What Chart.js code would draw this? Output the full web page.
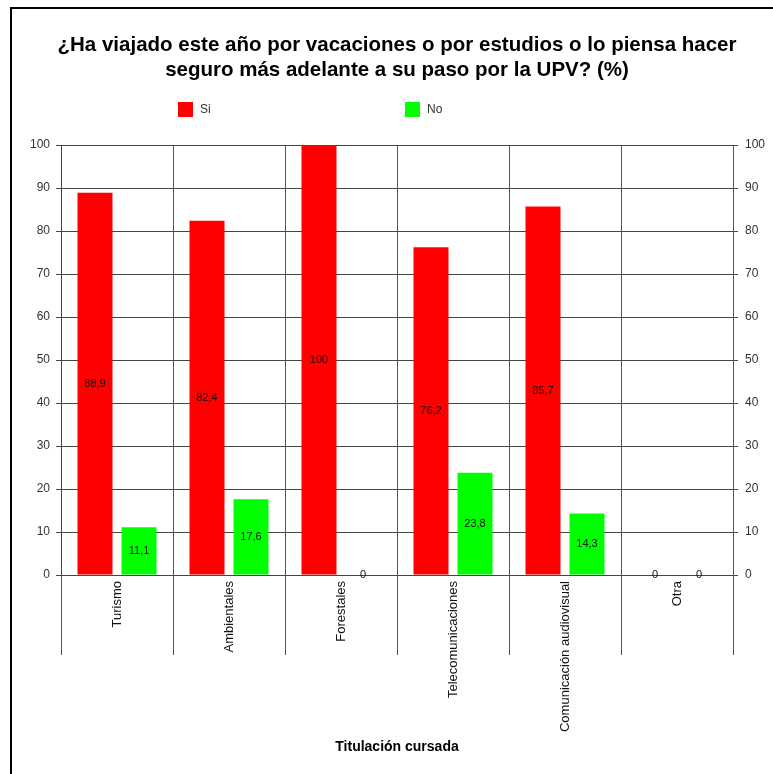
<!DOCTYPE html>
<html>
<head>
<meta charset="utf-8">
<script src="https://cdn.jsdelivr.net/npm/chart.js@4"></script>
<style>
    html, body { margin: 0; padding: 0; overflow: hidden; background: #fff; }
    #frame { position: absolute; left: 10px; top: 7px; width: 763px; height: 767px; border-left: 2px solid #000; border-top: 2px solid #000; box-sizing: border-box; }
    #wrap { position: absolute; left: 0; top: 0; width: 773px; height: 774px; }
</style>
</head>
<body>
<div id="frame"></div>
<div id="wrap"><canvas id="travelChart"></canvas></div>
<script>
const categories = ['Turismo', 'Ambientales', 'Forestales', 'Telecomunicaciones', 'Comunicación audiovisual', 'Otra'];
const siValues = [88.9, 82.4, 100, 76.2, 85.7, 0];
const noValues = [11.1, 17.6, 0, 23.8, 14.3, 0];
const yTicks = [0, 10, 20, 30, 40, 50, 60, 70, 80, 90, 100];

const FONT = "'Liberation Sans', Arial, sans-serif";

// numbers written with comma like the original
function fmt(v) {
    return String(v).replace('.', ',');
}

// value labels in the middle of each bar
const barLabels = {
    id: 'barLabels',
    afterDatasetsDraw(chart) {
        const c = chart.ctx;
        c.save();
        c.font = '11px ' + FONT;
        c.fillStyle = '#111';
        c.textAlign = 'center';
        c.textBaseline = 'middle';
        chart.data.datasets.forEach((ds, i) => {
            chart.getDatasetMeta(i).data.forEach((bar, j) => {
                const y = (bar.y + bar.base) / 2;
                c.fillText(fmt(ds.data[j]), bar.x, y);
            });
        });
        c.restore();
    }
};

// legend laid out like the original (two items spread apart)
const spreadLegend = {
    id: 'spreadLegend',
    afterDraw(chart) {
        const c = chart.ctx;
        const spots = [178, 405];
        c.save();
        c.font = '12px ' + FONT;
        c.textBaseline = 'middle';
        c.textAlign = 'left';
        chart.data.datasets.forEach((ds, i) => {
            const x = spots[i];
            c.fillStyle = ds.backgroundColor;
            c.fillRect(x, 102, 15, 15);
            c.fillStyle = '#333';
            c.fillText(ds.label, x + 22, 110);
        });
        c.restore();
    }
};

const ctx = document.getElementById('travelChart').getContext('2d');
const travelChart = new Chart(ctx, {
    type: 'bar',
    data: {
        labels: categories,
        datasets: [{
            label: 'Si',
            data: siValues,
            backgroundColor: '#ff0000',
            categoryPercentage: 0.786,
            barPercentage: 0.795
        }, {
            label: 'No',
            data: noValues,
            backgroundColor: '#00ff00',
            categoryPercentage: 0.786,
            barPercentage: 0.795
        }]
    },
    options: {
        responsive: true,
        maintainAspectRatio: false,
        animation: false,
        layout: { padding: { left: 21, right: 0, top: 0, bottom: 0 } },
        plugins: {
            legend: { display: false },
            tooltip: { enabled: false },
            title: {
                display: true,
                text: ['¿Ha viajado este año por vacaciones o por estudios o lo piensa hacer', 'seguro más adelante a su paso por la UPV? (%)'],
                color: '#000',
                font: { family: FONT, size: 20.5, weight: 'bold', lineHeight: 1.22 },
                padding: { top: 32.5, bottom: 62.5 }
            }
        },
        scales: {
            x: {
                offset: true,
                grid: { offset: true, color: '#555', tickLength: 80, tickColor: '#555' },
                border: { display: true, color: '#444' },
                ticks: {
                    color: '#111',
                    font: { family: FONT, size: 13 },
                    minRotation: 90,
                    maxRotation: 90,
                    autoSkip: false,
                    padding: -74
                },
                title: {
                    display: true,
                    text: 'Titulación cursada',
                    color: '#000',
                    font: { family: FONT, size: 14, weight: 'bold' },
                    padding: { top: 0, bottom: 18 }
                },
                afterFit(scale) { scale.height = 199; }
            },
            y: {
                position: 'left',
                min: 0,
                max: 100,
                afterBuildTicks(scale) { scale.ticks = yTicks.map(v => ({ value: v })); },
                grid: { color: '#444', tickLength: 5, tickColor: '#444' },
                border: { display: true, color: '#444' },
                ticks: { color: '#333', font: { family: FONT, size: 12 }, padding: 6 },
                afterFit(scale) { scale.width = 40; }
            },
            y2: {
                position: 'right',
                min: 0,
                max: 100,
                afterBuildTicks(scale) { scale.ticks = yTicks.map(v => ({ value: v })); },
                grid: { drawOnChartArea: false, tickLength: 5, tickColor: '#444' },
                border: { display: true, color: '#555' },
                ticks: { color: '#333', font: { family: FONT, size: 12 }, padding: 7 },
                afterFit(scale) { scale.width = 40; }
            }
        }
    },
    plugins: [barLabels, spreadLegend]
});
</script>
</body>
</html>
